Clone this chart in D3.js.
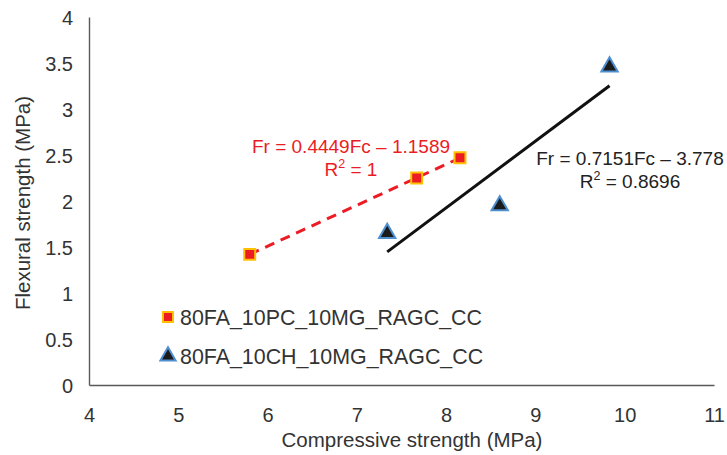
<!DOCTYPE html>
<html><head><meta charset="utf-8">
<script src="https://cdn.jsdelivr.net/npm/d3@7"></script>
<style>body{margin:0;background:#fff;}svg{display:block;font-family:"Liberation Sans",Arial,sans-serif;}</style>
</head><body><svg id="c" width="727" height="455"></svg>
<script>
// Data
const seriesNames = ["80FA_10PC_10MG_RAGC_CC", "80FA_10CH_10MG_RAGC_CC"];
const pcX = [5.80, 7.67, 8.155];
const pcY = [1.42, 2.25, 2.47];
const chX = [7.34, 8.60, 9.83];
const chY = [1.65, 1.95, 3.46];
const xTicks = [4, 5, 6, 7, 8, 9, 10, 11];
const yTicks = [0, 0.5, 1, 1.5, 2, 2.5, 3, 3.5, 4];
const pcEq = ["Fr = 0.4449Fc – 1.1589", "1"];
const chEq = ["Fr = 0.7151Fc – 3.778", "0.8696"];
const xTitle = "Compressive strength (MPa)";
const yTitle = "Flexural strength (MPa)";

const red = "#EC1C24", orange = "#FFC000", tri = "#1B1B1B", triStroke = "#4E8FD0", axisCol = "#595959", txt = "#333333";

const svg = d3.select("#c");
const x = d3.scaleLinear().domain([4, 11]).range([89, 714]);
const y = d3.scaleLinear().domain([0, 4]).range([385, 17]);

// axes
const xa = svg.append("g").attr("transform", "translate(0,385)")
  .call(d3.axisBottom(x).tickValues(xTicks).tickSize(0).tickPadding(10).tickFormat(d3.format("")));
const ya = svg.append("g").attr("transform", "translate(89,0)")
  .call(d3.axisLeft(y).tickValues(yTicks).tickSize(0).tickPadding(16).tickFormat(d3.format("")));
[xa, ya].forEach(a => {
  a.select(".domain").attr("stroke", axisCol).attr("stroke-width", 1.4);
  a.selectAll("text").attr("font-size", 20).attr("fill", txt).attr("font-family", "Liberation Sans, Arial, sans-serif");
});
xa.selectAll("text").attr("dy", "0.71em").attr("y", 23);
ya.selectAll("text").attr("dy", "0.36em");

// titles
svg.append("text").attr("x", 412).attr("y", 447).attr("text-anchor", "middle")
  .attr("font-size", 20.5).attr("fill", txt).text(xTitle);
svg.append("text").attr("transform", "translate(30,203) rotate(-90)").attr("text-anchor", "middle")
  .attr("font-size", 20.5).attr("fill", txt).text(yTitle);

// regression
function fit(xs, ys) {
  const n = xs.length, mx = d3.mean(xs), my = d3.mean(ys);
  let sxy = 0, sxx = 0;
  for (let i = 0; i < n; i++) { sxy += (xs[i] - mx) * (ys[i] - my); sxx += (xs[i] - mx) ** 2; }
  const b = sxy / sxx, a = my - b * mx;
  const x0 = d3.min(xs), x1 = d3.max(xs);
  return [[x0, a + b * x0], [x1, a + b * x1]];
}
const line = d3.line().x(d => x(d[0])).y(d => y(d[1]));
svg.append("path").attr("d", line(fit(pcX, pcY))).attr("stroke", red).attr("stroke-width", 3)
  .attr("stroke-dasharray", "10,7").attr("fill", "none");
svg.append("path").attr("d", line(fit(chX, chY))).attr("stroke", "#111").attr("stroke-width", 3)
  .attr("fill", "none");

// markers
const sq = d3.symbol().type(d3.symbolSquare).size(120);
const tr = d3.symbol().type(d3.symbolTriangle).size(115);
pcX.forEach((v, i) => svg.append("path").attr("d", sq()).attr("transform", `translate(${x(v)},${y(pcY[i])})`)
  .attr("fill", red).attr("stroke", orange).attr("stroke-width", 2));
chX.forEach((v, i) => svg.append("path").attr("d", tr()).attr("transform", `translate(${x(v)},${y(chY[i])})`)
  .attr("fill", tri).attr("stroke", triStroke).attr("stroke-width", 2));

// equation labels
function eq(cx, by, lines, col) {
  svg.append("text").attr("x", cx).attr("y", by).attr("text-anchor", "middle").attr("font-size", 19)
    .attr("fill", col).text(lines[0]);
  const t = svg.append("text").attr("x", cx).attr("y", by + 23).attr("text-anchor", "middle")
    .attr("font-size", 19).attr("fill", col);
  t.append("tspan").text("R");
  t.append("tspan").attr("font-size", 12.5).attr("dy", -8).text("2");
  t.append("tspan").attr("dy", 8).text(" = " + lines[1]);
}
eq(351, 153, pcEq, red);
eq(630, 165, chEq, "#222");

// legend
svg.append("path").attr("d", d3.symbol().type(d3.symbolSquare).size(100)()).attr("transform", "translate(168,317)")
  .attr("fill", red).attr("stroke", orange).attr("stroke-width", 2);
svg.append("path").attr("d", d3.symbol().type(d3.symbolTriangle).size(100)()).attr("transform", "translate(168,356)")
  .attr("fill", tri).attr("stroke", triStroke).attr("stroke-width", 2);
seriesNames.forEach((s, i) => svg.append("text").attr("x", 180).attr("y", 317 + i * 39).attr("dy", "0.36em")
  .attr("font-size", 21.4).attr("fill", txt).text(s));
</script></body></html>
